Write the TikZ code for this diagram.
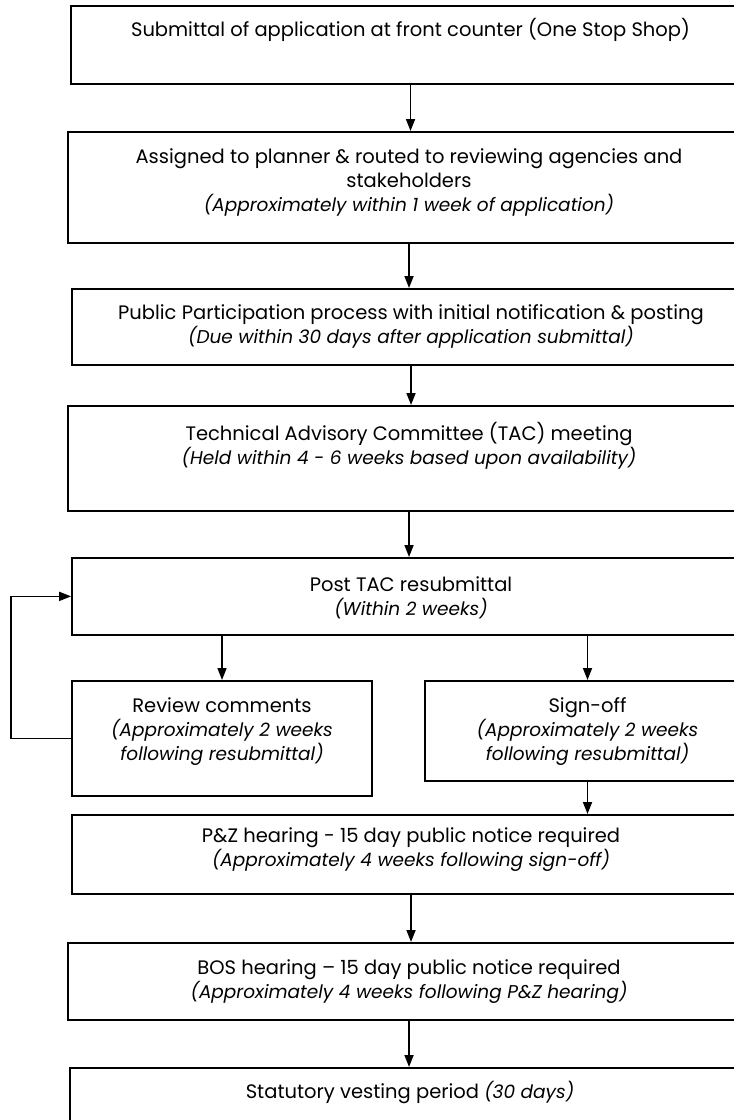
\documentclass[tikz,border=0pt]{standalone}
\usepackage{fontspec}
\setmainfont{Poppins}
\usetikzlibrary{arrows.meta}
\newcommand\myht[1]{\rule{0pt}{#1pt}}
\newcommand\mydp[1]{\rule[-#1pt]{0pt}{#1pt}}
\newcommand\nt{\fontsize{18.5}{24}\selectfont\itshape}
\begin{document}
\begin{tikzpicture}[x=1pt,y=-1pt,
  box/.style={draw, line width=1.7pt, align=center, inner xsep=4pt, inner ysep=0pt,
    font=\fontsize{19.5}{24}\selectfont, anchor=north},
  arr/.style={-{Triangle[length=12pt,width=9pt]}, line width=1.7pt}]
\useasboundingbox (0,0) rectangle (734,1120);
\node[box, minimum width=679pt] (b1) at (410.5,5)
  {\myht{31}Submittal of application at front counter (One Stop Shop)\mydp{47}};
\node[box, minimum width=682pt] (b2) at (409,131)
  {\myht{32}Assigned to planner \& routed to reviewing agencies and\\
   stakeholders\\
   \nt (Approximately within 1 week of application)\mydp{31}};
\node[box, minimum width=678pt] (b3) at (411,288)
  {\myht{31}Public Participation process with initial notification \& posting\\
   \nt (Due within 30 days after application submittal)\mydp{21}};
\node[box, minimum width=682pt] (b4) at (409,405)
  {\myht{35}Technical Advisory Committee (TAC) meeting\\
   \nt (Held within 4 - 6 weeks based upon availability)\mydp{46}};
\node[box, minimum width=678pt] (b5) at (411,557)
  {\myht{34}Post TAC resubmittal\\
   \nt (Within 2 weeks)\mydp{19}};
\node[box, minimum width=300pt] (b6) at (222,680)
  {\myht{32}Review comments\\
   \nt (Approximately 2 weeks\\
   \nt following resubmittal)\mydp{35}};
\node[box, minimum width=325pt] (b7) at (587.5,680)
  {\myht{32}Sign-off\\
   \nt (Approximately 2 weeks\\
   \nt following resubmittal)\mydp{20}};
\node[box, minimum width=678pt] (b8) at (411,814)
  {\myht{28}P\&Z hearing - 15 day public notice required\\
   \nt (Approximately 4 weeks following sign-off)\mydp{27}};
\node[box, minimum width=682pt] (b9) at (409,942)
  {\myht{32}BOS hearing -- 15 day public notice required\\
   \nt (Approximately 4 weeks following P\&Z hearing)\mydp{21}};
\node[box, minimum width=680pt] (b10) at (410,1067)
  {\myht{31}Statutory vesting period {\nt (30 days)}\mydp{32}};
\draw[arr] (b1.south) -- (b1.south |- b2.north);
\draw[arr] (b2.south) -- (b2.south |- b3.north);
\draw[arr] (b3.south) -- (b3.south |- b4.north);
\draw[arr] (b4.south) -- (b4.south |- b5.north);
\draw[arr] (b5.south -| b6.north) -- (b6.north);
\draw[arr] (b5.south -| b7.north) -- (b7.north);
\draw[arr] (b7.south) -- (b7.south |- b8.north);
\draw[arr] (b8.south) -- (b8.south |- b9.north);
\draw[arr] (b9.south) -- (b9.south |- b10.north);
\draw[arr] (b6.west) -- ++(-60,0) |- (b5.west);
\end{tikzpicture}
\end{document}
